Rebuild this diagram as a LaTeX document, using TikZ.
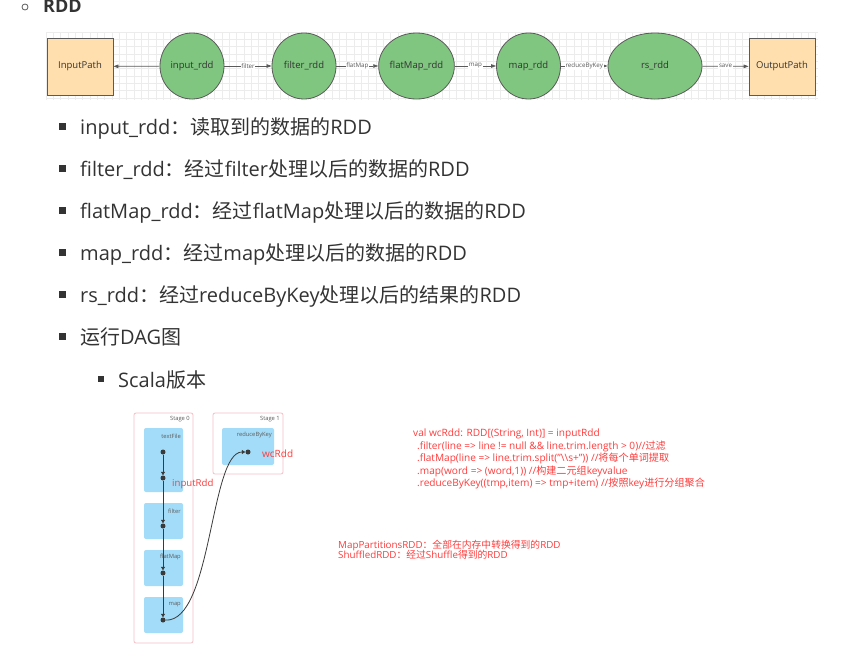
\documentclass[tikz,border=0pt]{standalone}
\usepackage{fontspec}
\setmainfont{Open Sans}
\newfontfamily\cjk{Noto Sans CJK SC}
\usetikzlibrary{arrows.meta,shapes.geometric}
\newcommand\zh[1]{{\cjk #1}}
\definecolor{rddgreen}{HTML}{80C680}
\definecolor{peach}{HTML}{FFDFAE}
\definecolor{outl}{HTML}{5A5A5A}
\definecolor{gridc}{HTML}{ECECEC}
\definecolor{dagblue}{HTML}{A3DCF8}
\definecolor{stagepink}{HTML}{F6BFC7}
\definecolor{codered}{HTML}{FF3B3B}
\definecolor{textc}{HTML}{333333}
\definecolor{dotc}{HTML}{3A3A3A}
\begin{document}
\begin{tikzpicture}[x=1pt,y=-1pt,
  pathbox/.style={draw=outl,fill=peach,line width=0.8pt,minimum width=66pt,minimum height=57pt,inner sep=0pt,font=\fontsize{9.5}{11}\selectfont,text=textc},
  rdd/.style={ellipse,draw=outl,fill=rddgreen,line width=0.8pt,inner sep=0pt,font=\fontsize{9.5}{11}\selectfont,text=textc},
  arr/.style={draw=outl,line width=0.7pt,-{Triangle[length=5pt,width=3.5pt]}},
  elbl/.style={fill=white,inner sep=0.6pt,font=\fontsize{6.2}{7}\selectfont,text=outl},
  li/.style={anchor=base west,inner sep=0pt,font=\fontsize{20}{22}\selectfont,text=textc},
  bul/.style={fill=textc,minimum size=6.5pt,inner sep=0pt},
  stagebox/.style={draw=stagepink,line width=0.8pt,rounded corners=2pt},
  opbox/.style={fill=dagblue,rounded corners=2pt},
  daglbl/.style={anchor=east,inner sep=0pt,font=\fontsize{5.8}{7}\selectfont,text=textc!80},
  dot/.style={circle,fill=dotc,minimum size=5pt,inner sep=0pt},
  dagarr/.style={draw=dotc,line width=0.8pt,-{Triangle[length=3.5pt,width=4pt]}},
  code/.style={anchor=base west,inner sep=0pt,font=\fontsize{10.1}{11}\selectfont,text=codered},
  note/.style={anchor=base west,inner sep=0pt,font=\fontsize{9.8}{11}\selectfont,text=codered},
  redlbl/.style={anchor=base west,inner sep=0pt,text=codered}]
\clip (0,0) rectangle (851,656);
\useasboundingbox (0,0) rectangle (851,656);
\fill[white] (0,0) rectangle (851,656);
% header
\node[circle,draw=outl,line width=0.8pt,minimum size=6pt,inner sep=0pt] (hb) at (25,7) {};
\node[anchor=base west,inner sep=0pt,font=\fontsize{18}{20}\selectfont\bfseries,text=textc] (ht) at (43,12.7) {RDD};
% grid background
\foreach \gx in {46,53.33,...,818} {\draw[gridc,line width=0.4pt] (\gx,32) -- (\gx,100);}
\foreach \gy in {32,39.33,...,100} {\draw[gridc,line width=0.4pt] (46,\gy) -- (818,\gy);}
% flow diagram
\node[pathbox] (ip) at (80,66.5) {InputPath};
\node[rdd,minimum width=64pt,minimum height=66pt] (ir) at (192,66) {input\_rdd};
\node[rdd,minimum width=64pt,minimum height=66pt] (fr) at (304,66) {filter\_rdd};
\node[rdd,minimum width=64pt,minimum height=66pt] (fm) at (416.5,66) {flatMap\_rdd};
\node[rdd,minimum width=64pt,minimum height=66pt] (mr) at (528.5,66) {map\_rdd};
\node[rdd,minimum width=94pt,minimum height=66pt] (rs) at (655,66) {rs\_rdd};
\node[pathbox] (op) at (782,66.5) {OutputPath};
\draw[arr] (ir) -- (ip);
\draw[arr] (ir) -- node[elbl] {filter} (fr);
\draw[arr] (fr) -- node[elbl] {flatMap} (fm);
\draw[arr] (fm) -- node[elbl] {map} (mr);
\draw[arr] (mr) -- node[elbl] {reduceByKey} (rs);
\draw[arr] (rs) -- node[elbl] {save} (op);
% list
\node[bul] (b1) at (62.5,126.5) {};
\node[li] (l1) at (80,134) {input\_rdd\zh{：读取到的数据的}RDD};
\node[bul] (b2) at (62.5,168.5) {};
\node[li] (l2) at (80,176) {filter\_rdd\zh{：经过}filter\zh{处理以后的数据的}RDD};
\node[bul] (b3) at (62.5,210.5) {};
\node[li] (l3) at (80,218) {flatMap\_rdd\zh{：经过}flatMap\zh{处理以后的数据的}RDD};
\node[bul] (b4) at (62.5,252.5) {};
\node[li] (l4) at (80,260) {map\_rdd\zh{：经过}map\zh{处理以后的数据的}RDD};
\node[bul] (b5) at (62.5,294.5) {};
\node[li] (l5) at (80,302) {rs\_rdd\zh{：经过}reduceByKey\zh{处理以后的结果的}RDD};
\node[bul] (b6) at (62.5,336.5) {};
\node[li] (l6) at (80,344) {\zh{运行}DAG\zh{图}};
\node[bul,minimum size=6pt] (b7) at (101,379) {};
\node[li] (l7) at (118,387) {Scala\zh{版本}};
% DAG
\draw[stagebox] (134,413) rectangle (193,643);
\draw[stagebox] (213,413) rectangle (283,474);
\node[daglbl] (s0) at (190,419) {Stage 0};
\node[daglbl] (s1) at (280,419) {Stage 1};
\fill[opbox] (144,428) rectangle (183,492);
\fill[opbox] (144,503) rectangle (183,539);
\fill[opbox] (144,550) rectangle (183,586);
\fill[opbox] (144,597) rectangle (183,633);
\fill[opbox] (222,428) rectangle (274,465);
\node[daglbl] (t1) at (181,436) {textFile};
\node[daglbl] (t2) at (181,511) {filter};
\node[daglbl] (t3) at (181,557) {flatMap};
\node[daglbl] (t4) at (181,605) {map};
\node[daglbl] (t5) at (272,435) {reduceByKey};
\node[dot] (d1) at (163,452) {};
\node[dot] (d2) at (163,478) {};
\node[dot] (d3) at (163,526) {};
\node[dot] (d4) at (163,573) {};
\node[dot] (d5) at (163,620) {};
\node[dot] (r1) at (248,452) {};
\draw[dagarr] (d1) -- (d2);
\draw[dagarr] (d2) -- (d3);
\draw[dagarr] (d3) -- (d4);
\draw[dagarr] (d4) -- (d5);
\draw[dagarr] (d5) .. controls (212,622) and (210,452) .. (r1);
\node[redlbl,font=\fontsize{9.6}{11}\selectfont] (irdd) at (172,486) {inputRdd};
\node[redlbl,font=\fontsize{10}{11}\selectfont] (wrdd) at (262,457) {wcRdd};
% code
\node[code] (c1) at (413,436.8) {val wcRdd: RDD[(String, Int)] = inputRdd};
\node[code] (c2) at (417,449.3) {.filter(line => line != null \&\& line.trim.length > 0)//\zh{过滤}};
\node[code] (c3) at (417,461.8) {.flatMap(line => line.trim.split("\textbackslash\textbackslash s+")) //\zh{将每个单词提取}};
\node[code] (c4) at (417,474.3) {.map(word => (word,1)) //\zh{构建二元组}keyvalue};
\node[code] (c5) at (417,486.8) {.reduceByKey((tmp,item) => tmp+item) //\zh{按照}key\zh{进行分组聚合}};
\node[note] (m1) at (338,548.5) {MapPartitionsRDD\zh{：全部在内存中转换得到的}RDD};
\node[note] (m2) at (338,558.8) {ShuffledRDD\zh{：经过}Shuffle\zh{得到的}RDD};
\end{tikzpicture}
\end{document}
